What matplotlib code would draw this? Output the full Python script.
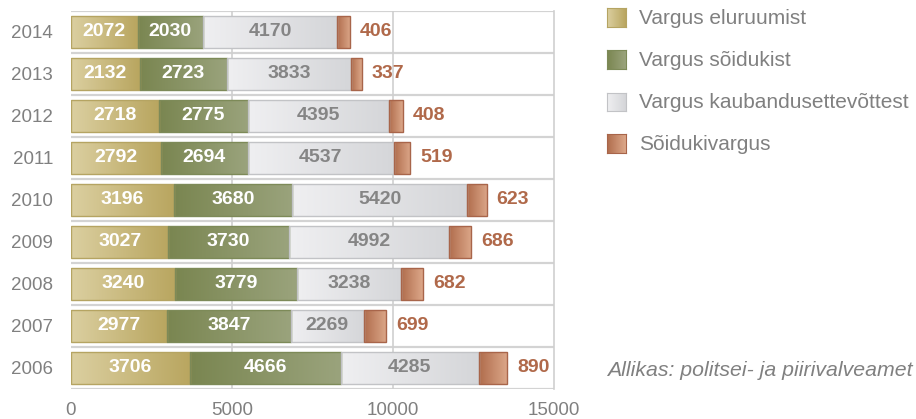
import numpy as np
import matplotlib.pyplot as plt
from matplotlib.colors import LinearSegmentedColormap

plt.rcParams['font.family'] = ['Liberation Sans', 'DejaVu Sans']

years = [2006, 2007, 2008, 2009, 2010, 2011, 2012, 2013, 2014]
eluruum = [3706, 2977, 3240, 3027, 3196, 2792, 2718, 2132, 2072]
soiduk = [4666, 3847, 3779, 3730, 3680, 2694, 2775, 2723, 2030]
kaubandus = [4285, 2269, 3238, 4992, 5420, 4537, 4395, 3833, 4170]
soidukivargus = [890, 699, 682, 686, 623, 519, 408, 337, 406]

names = ['Vargus eluruumist', 'Vargus sõidukist',
         'Vargus kaubandusettevõttest', 'Sõidukivargus']
series = [eluruum, soiduk, kaubandus, soidukivargus]

# (left colour, right colour, edge colour) for each series gradient
grads = [('#dbcfa0', '#b9a660', '#b5a462'),
         ('#7a8651', '#9aa37c', '#7d8a58'),
         ('#efeff1', '#d5d6d9', '#c2c3c6'),
         ('#b06d4d', '#dca789', '#a8654a')]
text_cols = ['white', 'white', '#858585', '#b0694a']
grey = '#808080'

fig = plt.figure(figsize=(9.16, 4.19), dpi=100)
ax = fig.add_axes([71 / 916, 1 - 389 / 419, (554 - 71) / 916, 378 / 419])

y = np.arange(len(years))
left = np.zeros(len(years))
for k, vals in enumerate(series):
    vals = np.array(vals)
    c0, c1, ec = grads[k]
    cmap = LinearSegmentedColormap.from_list('g%d' % k, [c0, c1])
    bars = ax.barh(y, vals, left=left, height=0.76, color='none',
                   edgecolor=ec, linewidth=1.0, zorder=3)
    for b in bars:
        x0, y0 = b.get_x(), b.get_y()
        im = ax.imshow(np.linspace(0, 1, 64).reshape(1, -1), cmap=cmap,
                       extent=(x0, x0 + b.get_width(), y0, y0 + b.get_height()),
                       aspect='auto', zorder=2, interpolation='bicubic')
        im.set_clip_path(b)
    for yi, l, v in zip(y, left, vals):
        if k < 3:
            ax.text(l + v / 2, yi, str(v), ha='center', va='center',
                    fontsize=14, fontweight='bold', color=text_cols[k], zorder=4)
        else:
            ax.annotate(str(v), (l + v, yi), xytext=(7, 0),
                        textcoords='offset points', ha='left', va='center',
                        fontsize=14, fontweight='bold', color=text_cols[k])
    left = left + vals

ax.set_xlim(0, 15000)
ax.set_ylim(-0.5, len(years) - 0.5)

# row separators and vertical grid
for b in np.arange(-0.5, len(years), 1.0):
    ax.axhline(b, color='#d3d3d3', lw=1.6, zorder=1)
for gx in [5000, 10000]:
    ax.axvline(gx, color='#cfcfcf', lw=1.2, zorder=1)
for s in ['top', 'bottom', 'left']:
    ax.spines[s].set_visible(False)
ax.spines['right'].set_color('#cfcfcf')
ax.spines['right'].set_linewidth(1.2)

ax.set_xticks([0, 5000, 10000, 15000])
ax.set_yticks(y)
ax.set_yticklabels([str(v) for v in years])
ax.tick_params(length=0, labelsize=13.5, colors=grey)
ax.tick_params(axis='x', pad=9)
ax.tick_params(axis='y', pad=13)

# legend
for k, name in enumerate(names):
    cy = 18 + 42 * k
    c0, c1, ec = grads[k]
    lax = fig.add_axes([607 / 916, 1 - (cy + 9.5) / 419, 19 / 916, 19 / 419])
    cmap = LinearSegmentedColormap.from_list('l%d' % k, [c0, c1])
    lax.imshow(np.linspace(0, 1, 32).reshape(1, -1), cmap=cmap, aspect='auto')
    lax.set_xticks([])
    lax.set_yticks([])
    for sp in lax.spines.values():
        sp.set_color(ec)
    fig.text(639 / 916, 1 - cy / 419, name, ha='left', va='center',
             fontsize=15, color=grey)

fig.text(913 / 916, 1 - 370 / 419, 'Allikas: politsei- ja piirivalveamet',
         ha='right', va='center', fontsize=15.3, style='italic', color=grey)

fig.savefig('out.png', dpi=100)
